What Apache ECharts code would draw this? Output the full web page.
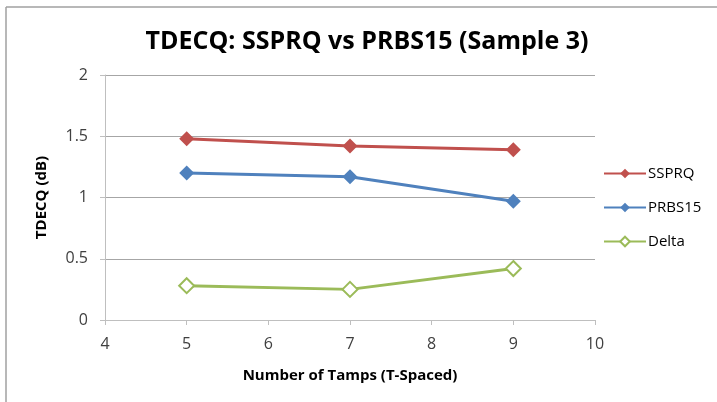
<!DOCTYPE html>
<html>
<head>
<meta charset="utf-8">
<script src="https://cdn.jsdelivr.net/npm/echarts@6/dist/echarts.min.js"></script>
<style>
  html, body { margin: 0; padding: 0; background: #fff; }
  #chart { width: 717px; height: 402px; }
</style>
</head>
<body>
<div id="chart"></div>
<script>
// taps (x) and TDECQ values
const taps = [5, 7, 9];
const ssprq = [1.48, 1.42, 1.39];
const prbs15 = [1.20, 1.17, 0.97];
const delta = [0.28, 0.25, 0.42];

const pairs = (ys) => taps.map((x, i) => [x, ys[i]]);

const chart = echarts.init(document.getElementById('chart'));
const font = 'Open Sans, Liberation Sans, sans-serif';

const option = {
  animation: false,
  backgroundColor: '#fff',
  title: {
    text: 'TDECQ: SSPRQ vs PRBS15 (Sample 3)',
    left: 362,
    textAlign: 'center',
    top: 24,
    textStyle: { fontFamily: font, fontSize: 25, fontWeight: 'bold', color: '#000' }
  },
  legend: {
    orient: 'vertical',
    left: 598,
    top: 161,
    itemGap: 19,
    itemWidth: 42,
    itemHeight: 12,
    textStyle: { fontFamily: font, fontSize: 15, color: '#000', padding: [0, 0, 0, -3] },
    data: ['SSPRQ', 'PRBS15', 'Delta']
  },
  grid: { left: 105, right: 122, top: 75, bottom: 82 },
  xAxis: {
    type: 'value',
    min: 4, max: 10, interval: 1,
    name: 'Number of Tamps (T-Spaced)',
    nameLocation: 'middle',
    nameGap: 48,
    nameTextStyle: { fontFamily: font, fontSize: 15, fontWeight: 'bold', color: '#000' },
    axisLine: { lineStyle: { color: '#bfbfbf' } },
    axisTick: { show: true, length: 5, lineStyle: { color: '#bfbfbf' } },
    axisLabel: { fontFamily: font, fontSize: 16, color: '#404040', margin: 16 },
    splitLine: { show: false }
  },
  yAxis: {
    type: 'value',
    min: 0, max: 2, interval: 0.5,
    name: 'TDECQ (dB)',
    nameLocation: 'middle',
    nameGap: 56,
    nameTextStyle: { fontFamily: font, fontSize: 15, fontWeight: 'bold', color: '#000' },
    axisLine: { show: true, lineStyle: { color: '#bfbfbf' } },
    axisTick: { show: true, length: 5, lineStyle: { color: '#bfbfbf' } },
    axisLabel: { fontFamily: font, fontSize: 16, color: '#404040', margin: 17 },
    splitLine: { lineStyle: { color: '#a6a6a6', width: 1 } }
  },
  graphic: [
    { type: 'line', shape: { x1: 6, y1: 7, x2: 717, y2: 7 }, style: { stroke: '#a0a0a0', lineWidth: 1.5 } },
    { type: 'line', shape: { x1: 6, y1: 7, x2: 6, y2: 402 }, style: { stroke: '#a0a0a0', lineWidth: 1.5 } }
  ],
  series: [
    {
      name: 'SSPRQ', type: 'line', data: pairs(ssprq),
      symbol: 'diamond', symbolSize: 15,
      lineStyle: { color: '#c0504d', width: 3 },
      itemStyle: { color: '#c0504d' }
    },
    {
      name: 'PRBS15', type: 'line', data: pairs(prbs15),
      symbol: 'diamond', symbolSize: 15,
      lineStyle: { color: '#4f81bd', width: 3 },
      itemStyle: { color: '#4f81bd' }
    },
    {
      name: 'Delta', type: 'line', data: pairs(delta),
      symbol: 'diamond', symbolSize: 15,
      lineStyle: { color: '#9bbb59', width: 3 },
      itemStyle: { color: '#fff', borderColor: '#9bbb59', borderWidth: 2 }
    }
  ]
};

chart.setOption(option);
window.addEventListener('resize', () => chart.resize());
</script>
</body>
</html>
